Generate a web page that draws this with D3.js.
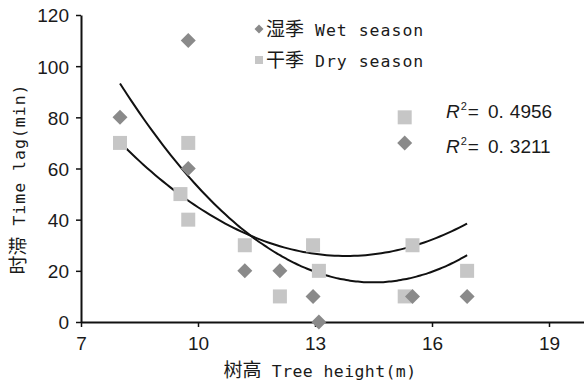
<!DOCTYPE html>
<html>
<head>
<meta charset="utf-8">
<script src="https://cdn.jsdelivr.net/npm/d3@7"></script>
<style>
  html, body { margin: 0; padding: 0; background: #fff; }
  svg { display: block; }
</style>
</head>
<body>
<svg id="chart"></svg>
<script>
// wet season (diamonds): tree height (m), time lag (min)
const wetHeight = [8.0, 9.75, 9.75, 11.2, 12.1, 12.95, 13.1, 15.5, 16.9, 15.3];
const wetLag    = [80, 110, 60, 20, 20, 10, 0, 10, 10, 70];

// dry season (squares)
const dryHeight = [8.0, 9.75, 9.55, 9.75, 11.2, 12.1, 12.95, 13.1, 15.3, 15.5, 16.9, 15.3];
const dryLag    = [70, 70, 50, 40, 30, 10, 30, 20, 10, 30, 20, 80];

// quadratic trend lines: a*(x-h)^2 + k, drawn over [from, to]
const wetFit = { a: 1.84, h: 14.5, k: 15.5, from: 8, to: 16.9 };
const dryFit = { a: 1.32, h: 13.8, k: 25.8, from: 8, to: 16.9 };

const xTicks = [7, 10, 13, 16, 19];
const yTicks = [0, 20, 40, 60, 80, 100, 120];
const r2Labels = [["0.", "4956"], ["0.", "3211"]];

const W = 584, H = 383;
const svg = d3.select("#chart").attr("width", W).attr("height", H);

const x = d3.scaleLinear().domain([7, 20]).range([81, 588]);
const y = d3.scaleLinear().domain([0, 120]).range([322, 15]);

const tickFont = "'Liberation Sans', Arial, sans-serif";
const monoFont = "'DejaVu Sans Mono', 'Noto Sans CJK SC', monospace";

// axes
const xAxis = svg.append("g")
  .attr("transform", `translate(0,${y(0)})`)
  .call(d3.axisBottom(x).tickValues(xTicks).tickSize(5).tickSizeOuter(0));
const yAxis = svg.append("g")
  .attr("transform", `translate(${x(7)},0)`)
  .call(d3.axisLeft(y).tickValues(yTicks).tickSize(5).tickSizeOuter(0));

[xAxis, yAxis].forEach(a => {
  a.select(".domain").attr("stroke", "#111").attr("stroke-width", 2);
  a.selectAll(".tick line").attr("stroke", "#111").attr("stroke-width", 1.5);
  a.selectAll("text")
    .attr("fill", "#1a1a1a")
    .style("font-family", tickFont)
    .style("font-size", "19px");
});
xAxis.selectAll("text").attr("dy", "0.95em").attr("y", 10);
yAxis.selectAll("text").attr("x", -12).attr("dy", "0.36em");

// trend lines
const line = d3.line().x(d => x(d[0])).y(d => y(d[1])).curve(d3.curveBasis);
[wetFit, dryFit].forEach(f => {
  const pts = d3.range(f.from, f.to + 0.001, 0.1).map(v => [v, f.a * (v - f.h) ** 2 + f.k]);
  svg.append("path")
    .attr("d", line(pts))
    .attr("fill", "none")
    .attr("stroke", "#111")
    .attr("stroke-width", 2);
});

// dry points (squares)
const sq = 14;
svg.append("g").selectAll("rect")
  .data(dryHeight.map((h, i) => [h, dryLag[i]]))
  .join("rect")
  .attr("x", d => x(d[0]) - sq / 2)
  .attr("y", d => y(d[1]) - sq / 2)
  .attr("width", sq)
  .attr("height", sq)
  .attr("fill", "#c6c6c6");

// wet points (diamonds)
const diamond = (cx, cy, r) => `M${cx},${cy - r}L${cx + r},${cy}L${cx},${cy + r}L${cx - r},${cy}Z`;
svg.append("g").selectAll("path")
  .data(wetHeight.map((h, i) => [h, wetLag[i]]))
  .join("path")
  .attr("d", d => diamond(x(d[0]), y(d[1]), 7.5))
  .attr("fill", "#8a8a8a");

// legend
const legend = [
  { cn: "湿季", en: "Wet season", shape: "diamond", color: "#8a8a8a", y: 29 },
  { cn: "干季", en: "Dry season", shape: "square", color: "#c6c6c6", y: 60 }
];
legend.forEach(l => {
  if (l.shape === "diamond") {
    svg.append("path").attr("d", diamond(259, l.y, 4.5)).attr("fill", l.color);
  } else {
    svg.append("rect").attr("x", 255).attr("y", l.y - 4).attr("width", 8).attr("height", 8).attr("fill", l.color);
  }
  const t = svg.append("text")
    .attr("x", 266).attr("y", l.y + 7)
    .attr("fill", "#1a1a1a")
    .style("font-family", monoFont);
  t.append("tspan").style("font-size", "19px").text(l.cn);
  t.append("tspan").style("font-size", "16.5px").style("letter-spacing", "1px").text(" " + l.en);
});

// R² annotations
r2Labels.forEach((v, i) => {
  const t = svg.append("text")
    .attr("x", 446).attr("y", 118 + i * 35)
    .attr("fill", "#1a1a1a")
    .style("font-family", tickFont)
    .style("font-size", "19px");
  t.append("tspan").style("font-style", "italic").text("R");
  t.append("tspan").attr("dy", -8).attr("dx", 1).style("font-size", "11px").text("2");
  t.append("tspan").attr("dy", 8).attr("dx", 1).text("=");
  t.append("tspan").attr("dx", 9).text(v[0]);
  t.append("tspan").attr("dx", 6).text(v[1]);
});

// axis titles
const xt = svg.append("text")
  .attr("x", 320).attr("y", 377)
  .attr("text-anchor", "middle")
  .attr("fill", "#1a1a1a")
  .style("font-family", monoFont);
xt.append("tspan").style("font-size", "19px").text("树高");
xt.append("tspan").style("font-size", "16.5px").style("letter-spacing", "0.4px").text(" Tree height(m)");

const yt = svg.append("text")
  .attr("transform", "translate(25,179) rotate(-90)")
  .attr("text-anchor", "middle")
  .attr("fill", "#1a1a1a")
  .style("font-family", monoFont);
yt.append("tspan").style("font-size", "19px").text("时滞");
yt.append("tspan").style("font-size", "16.5px").style("letter-spacing", "1px").text(" Time lag(min)");
</script>
</body>
</html>
